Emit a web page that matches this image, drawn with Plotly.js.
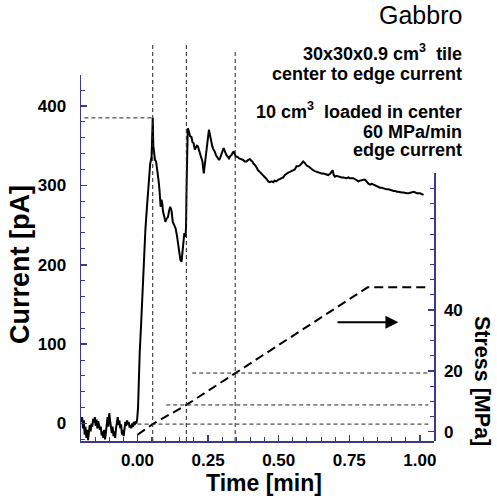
<!DOCTYPE html>
<html>
<head>
<meta charset="utf-8">
<script src="https://cdn.plot.ly/plotly-3.0.1.min.js"></script>
<style>html,body{margin:0;padding:0;background:#fff;}#chart{width:497px;height:499px;}</style>
</head>
<body>
<div id="chart"></div>
<script>
// ---- data ----
const time = [-0.200,-0.196,-0.193,-0.190,-0.187,-0.184,-0.181,-0.178,-0.175,-0.172,-0.169,-0.166,-0.163,-0.160,-0.157,-0.154,-0.151,-0.148,-0.145,-0.142,-0.139,-0.136,-0.133,-0.130,-0.127,-0.124,-0.121,-0.118,-0.115,-0.112,-0.109,-0.106,-0.103,-0.100,-0.097,-0.094,-0.091,-0.088,-0.085,-0.082,-0.079,-0.076,-0.073,-0.070,-0.067,-0.064,-0.061,-0.058,-0.055,-0.052,-0.049,-0.046,-0.043,-0.040,-0.037,-0.034,-0.031,-0.028,-0.025,-0.022,-0.019,-0.016,-0.013,-0.010,-0.007,-0.004,-0.001,
0.002,0.005,0.008,0.013,0.016,0.019,0.024,0.028,0.033,0.038,0.042,0.045,0.050,0.052,0.054,0.056,0.059,0.062,0.066,0.068,0.071,0.075,0.078,0.082,0.085,0.088,0.090,0.092,0.095,0.099,0.103,0.108,0.112,0.116,0.119,0.121,0.125,0.130,0.135,0.140,0.144,0.148,0.152,0.156,0.159,0.161,0.164,0.166,0.170,0.172,0.174,0.176,0.178,
0.182,0.186,0.191,0.195,0.199,0.203,0.206,0.210,0.214,0.218,0.223,0.227,0.230,0.233,0.235,0.238,0.241,0.245,0.250,0.253,0.256,0.258,0.262,0.265,0.269,0.273,0.278,0.282,0.286,0.289,0.293,0.297,0.301,0.305,0.310,0.315,0.320,0.324,0.329,0.333,0.337,0.341,0.345,0.348,0.354,0.360,0.367,0.374,0.380,0.386,0.392,0.398,0.403,0.407,0.411,0.415,0.421,0.427,0.433,0.439,0.445,0.451,0.457,0.463,0.469,0.475,0.481,0.486,0.492,0.498,0.504,0.510,0.516,0.522,0.528,0.534,0.540,0.546,0.551,0.557,0.563,0.569,0.575,0.581,0.587,0.593,0.599,0.605,0.611,0.617,0.622,0.628,0.634,0.640,0.646,0.652,0.658,0.664,0.670,0.676,0.683,0.691,0.695,0.699,0.705,0.711,0.717,0.723,0.729,0.735,0.741,0.747,0.752,0.758,0.764,0.770,0.776,0.782,0.788,0.794,0.800,0.806,0.812,0.818,0.824,0.830,0.836,0.841,0.847,0.853,0.859,0.865,0.871,0.877,0.883,0.889,0.895,0.901,0.907,0.913,0.918,0.924,0.930,0.936,0.942,0.948,0.954,0.960,0.966,0.972,0.978,0.984,0.989,0.995,1.001,1.007,1.013,1.019,1.025,1.031,1.037,1.043,1.048];
const current = [2,8,-6,4,-14,-4,-18,-8,-21,-6,-2,-10,0,-4,6,1,8,-3,5,-6,3,-2,-8,-4,-15,-10,-18,-8,-20,-12,2,8,-4,13,4,-6,-12,-4,-16,-10,-18,-6,2,8,-2,4,-6,-1,-14,-8,-16,-4,2,-3,4,-1,2,-5,-2,-6,0,-4,2,-2,3,0,6,
20,63,90,126,150,185,215,244,270,294,315,327,336,355,385,350,336,332,330,325,319,305,294,273,282,277,268,265,258,254,258,260,268,273,270,267,254,250,246,236,227,215,206,204,215,223,235,240,235,248,300,340,372,
368,362,361,354,353,345,347,350,349,344,340,333,330,320,315,325,336,348,361,370,364,359,352,349,345,343,338,336,334,332,335,338,343,347,342,338,336,334,337,338,341,343,339,336,336,334,333,332,330,330,332,333,331,330,327,326,323,319,317,315,313,311,308,305,304,305,304,306,305,307,308,309,310,313,315,316,317,318,319,320,324,324,325,327,330,328,325,324,322,320,319,318,317,317,316,315,315,314,313,313,315,319,313,311,312,311,311,310,310,309,309,310,309,309,309,308,306,305,306,307,307,307,304,302,301,302,301,300,299,298,297,297,296,296,295,295,294,294,293,293,292,292,291,291,291,290,290,290,291,291,292,291,290,290,290,289,288];

const stressTime = [0.000, 0.054, 0.173, 0.346, 0.815, 1.030];
const stress     = [-1.0,  2.5,   8.8,   19.3,  47.5,  47.5];

const markTimes      = [0.054, 0.173, 0.346];   // vertical dashed markers
const markStress     = [2.5, 8.8, 19.3];        // stress at the markers
const markStressFrom = [0.000, 0.102, 0.194];   // start time of horizontal stress markers
const peakCurrent = 385;
const peakFrom = -0.188;

const xTicks  = [0, 0.25, 0.5, 0.75, 1.0];
const yTicks  = [0, 100, 200, 300, 400];
const y2Ticks = [0, 20, 40];

// ---- drawing ----
const navy = '#3a3a8c';
const fam = 'Liberation Sans, Arial, Helvetica, sans-serif';
const W = 497, H = 499, L = 81, R = 63, T = 75, B = 58;
const pw = W - L - R, ph = H - T - B;
const px = x => (x - L) / pw;
const py = y => (H - B - y) / ph;

const thin = {color: '#222', width: 1, dash: '4px,3px'};
const shapes = [];
markTimes.forEach((t, i) => {
  shapes.push({type: 'line', xref: 'x', yref: 'paper', x0: t, x1: t, y0: 0, y1: py(i === 2 ? 49 : 42), line: thin});
});
markStress.forEach((s, i) => {
  shapes.push({type: 'line', xref: 'x', yref: 'y2', x0: markStressFrom[i], x1: 1.03, y0: s, y1: s, line: thin});
});
shapes.push({type: 'line', xref: 'x', yref: 'y', x0: peakFrom, x1: markTimes[0], y0: peakCurrent, y1: peakCurrent, line: thin});

const bold = (size) => ({family: fam, size: size, color: '#000', weight: 700});

const annotations = [
  {text: 'Gabbro', xref: 'paper', yref: 'paper', x: px(464), y: py(15), xanchor: 'right', yanchor: 'middle', showarrow: false, font: {family: fam, size: 25, color: '#000'}},
  {text: '30x30x0.9 cm<sup>3</sup>  tile', xref: 'paper', yref: 'paper', x: px(464), y: py(53), xanchor: 'right', yanchor: 'middle', showarrow: false, font: bold(18)},
  {text: 'center to edge current', xref: 'paper', yref: 'paper', x: px(464), y: py(74.5), xanchor: 'right', yanchor: 'middle', showarrow: false, font: bold(18)},
  {text: '10 cm<sup>3</sup>  loaded in center', xref: 'paper', yref: 'paper', x: px(464), y: py(110), xanchor: 'right', yanchor: 'middle', showarrow: false, font: bold(18)},
  {text: '60 MPa/min', xref: 'paper', yref: 'paper', x: px(464), y: py(131.5), xanchor: 'right', yanchor: 'middle', showarrow: false, font: bold(18)},
  {text: 'edge current', xref: 'paper', yref: 'paper', x: px(464), y: py(149.5), xanchor: 'right', yanchor: 'middle', showarrow: false, font: bold(18)},
  {text: 'Current [pA]', xref: 'paper', yref: 'paper', x: px(20), y: py(265), textangle: -90, xanchor: 'center', yanchor: 'middle', showarrow: false, font: bold(27)},
  {text: 'Time [min]', xref: 'paper', yref: 'paper', x: px(264), y: py(483), xanchor: 'center', yanchor: 'middle', showarrow: false, font: bold(23)},
  {text: 'Stress [MPa]', xref: 'paper', yref: 'paper', x: px(482), y: py(381), textangle: 90, xanchor: 'center', yanchor: 'middle', showarrow: false, font: bold(21.5)},
  {text: '', xref: 'x', yref: 'y2', x: 0.924, y: 36, axref: 'x', ayref: 'y2', ax: 0.703, ay: 36, showarrow: true, arrowhead: 2, arrowsize: 1.3, arrowwidth: 2, arrowcolor: '#000'}
];

const axisCommon = {
  showline: true, linecolor: navy, linewidth: 1.5, mirror: false,
  ticks: 'inside', ticklen: 6, tickwidth: 1.5, tickcolor: navy,
  showgrid: false, zeroline: false, tickfont: bold(17), fixedrange: true
};

const traces = [
  {x: time, y: current, type: 'scatter', mode: 'lines', xaxis: 'x', yaxis: 'y', line: {color: '#000', width: 2}, hoverinfo: 'skip'},
  {x: stressTime, y: stress, type: 'scatter', mode: 'lines', xaxis: 'x', yaxis: 'y2', line: {color: '#000', width: 2, dash: '9px,5px'}, hoverinfo: 'skip'}
];

const layout = {
  width: W, height: H,
  margin: {l: L, r: R, t: T, b: B, pad: 0},
  paper_bgcolor: '#fff', plot_bgcolor: 'rgba(0,0,0,0)',
  showlegend: false,
  font: {family: fam, color: '#000'},
  xaxis: Object.assign({}, axisCommon, {
    range: [-0.2, 1.05], tickmode: 'array', tickvals: xTicks, ticktext: xTicks.map(v => v.toFixed(2)),
    anchor: 'y', ticklabelstandoff: 3,
    minor: {tickmode: 'linear', tick0: 0, dtick: 0.05, ticks: 'inside', ticklen: 4, tickwidth: 1, tickcolor: navy, showgrid: false}
  }),
  yaxis: Object.assign({}, axisCommon, {
    range: [-22, 439], tickmode: 'array', tickvals: yTicks, ticktext: yTicks.map(String),
    anchor: 'x', ticklabelstandoff: 10,
    minor: {tickmode: 'linear', tick0: 0, dtick: 20, ticks: 'inside', ticklen: 4, tickwidth: 1, tickcolor: navy, showgrid: false}
  }),
  yaxis2: Object.assign({}, axisCommon, {
    domain: [0, (441 - 173) / ph], range: [-3.06, 85.1], anchor: 'x', side: 'right',
    tickmode: 'array', tickvals: y2Ticks, ticktext: y2Ticks.map(String), ticklabelstandoff: 5,
    minor: {tickmode: 'linear', tick0: 0, dtick: 5, ticks: 'inside', ticklen: 4, tickwidth: 1, tickcolor: navy, showgrid: false}
  }),
  shapes: shapes,
  annotations: annotations
};

Plotly.newPlot('chart', traces, layout, {staticPlot: true, displayModeBar: false});
</script>
</body>
</html>
